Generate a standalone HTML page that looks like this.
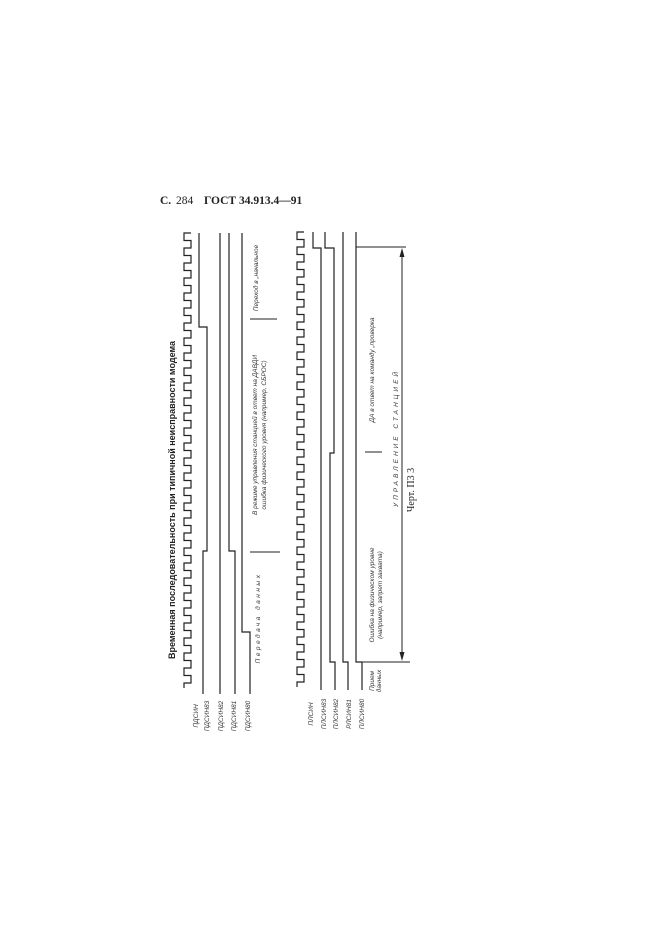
<!DOCTYPE html>
<html><head><meta charset="utf-8"><style>
html,body{margin:0;padding:0;background:#fff;}
svg{display:block;}
text{font-family:"Liberation Sans",sans-serif;fill:#333;}
text.hd{font-family:"Liberation Serif",serif;font-size:11.5px;font-weight:bold;fill:#222;}
</style></head><body>
<svg width="661" height="935" viewBox="0 0 661 935" xmlns="http://www.w3.org/2000/svg">
<defs>
<path id="clk" d="M0 0
h-7 v7.5 h7 v7.5 h-7 v7.5 h7 v7.5 h-7 v7.5 h7 v7.5 h-7 v7.5 h7 v7.5 h-7 v7.5 h7 v7.5
h-7 v7.5 h7 v7.5 h-7 v7.5 h7 v7.5 h-7 v7.5 h7 v7.5 h-7 v7.5 h7 v7.5 h-7 v7.5 h7 v7.5
h-7 v7.5 h7 v7.5 h-7 v7.5 h7 v7.5 h-7 v7.5 h7 v7.5 h-7 v7.5 h7 v7.5 h-7 v7.5 h7 v7.5
h-7 v7.5 h7 v7.5 h-7 v7.5 h7 v7.5 h-7 v7.5 h7 v7.5 h-7 v7.5 h7 v7.5 h-7 v7.5 h7 v7.5
h-7 v7.5 h7 v7.5 h-7 v7.5 h7 v7.5 h-7 v7.5 h7 v7.5 h-7 v7.5 h7 v7.5 h-7 v7.5 h7 v7.5
h-7 v7.5 h7 v7.5 h-7 v7.5 h7 v7.5 h-7 v7.5 h7 v7.5 h-7 v7.5 h7 v7.5 h-7 v7.5 h7 v7.5
h-7 v5" fill="none" stroke="#222" stroke-width="1.2"/>
</defs>
<text class="hd" x="160" y="204">С.</text>
<text class="hd" x="176" y="204" style="font-weight:normal">284</text>
<text class="hd" x="204" y="204">ГОСТ 34.913.4—91</text>

<text transform="translate(175,500) rotate(-90)" text-anchor="middle" style="font-size:9px;font-weight:bold;fill:#222">Временная последовательность при типичной неисправности модема</text>

<use href="#clk" x="191" y="233"/>
<use href="#clk" x="304" y="232"/>

<g fill="none" stroke="#222" stroke-width="1.2">
<path d="M199 233 V327 H207 V551 H203 V694"/>
<path d="M220 233 V694"/>
<path d="M229 233 V551 H235 V694"/>
<path d="M242 233 V632 H250 V694"/>

<path d="M313 232 V248 H321 V690"/>
<path d="M325 232 V248 H334 V453 H330 V662 H335 V690"/>
<path d="M343 232 V662 H348 V690"/>
<path d="M356 232 V662 H362 V690"/>

<path d="M356 247 H406" stroke-width="1"/>
<path d="M362 662 H410" stroke-width="1"/>
<path d="M402 252 V657" stroke-width="1"/>
<path d="M250 319 H277 M250 552 H280 M365 452 H382" stroke-width="1"/>
</g>
<polygon points="402,248 399.5,257 404.5,257" fill="#222"/>
<polygon points="402,661 399.5,652 404.5,652" fill="#222"/>

<g style="font-size:6.5px;font-style:italic">
<text transform="translate(198,716) rotate(-90)" text-anchor="middle">ПДСИН</text>
<text transform="translate(209,716) rotate(-90)" text-anchor="middle">ПДСИН83</text>
<text transform="translate(223,716) rotate(-90)" text-anchor="middle">ПДСИН82</text>
<text transform="translate(236,716) rotate(-90)" text-anchor="middle">ПДСИН81</text>
<text transform="translate(250,716) rotate(-90)" text-anchor="middle">ПДСИН80</text>
<text transform="translate(313,714) rotate(-90)" text-anchor="middle">ПЛСИН</text>
<text transform="translate(326,714) rotate(-90)" text-anchor="middle">ПЛСИН83</text>
<text transform="translate(338,714) rotate(-90)" text-anchor="middle">ПЛСИН82</text>
<text transform="translate(351,714) rotate(-90)" text-anchor="middle">РЛСИН81</text>
<text transform="translate(364,714) rotate(-90)" text-anchor="middle">ПЛСИН80</text>

<text transform="translate(258,278) rotate(-90)" text-anchor="middle">Переход в „начальное</text>
<text transform="translate(257,435) rotate(-90)" text-anchor="middle">В режиме управления станцией в ответ на ДАВДИ</text>
<text transform="translate(266,435) rotate(-90)" text-anchor="middle">ошибка физического уровня (например, СБРОС)</text>
<text transform="translate(260,618) rotate(-90)" text-anchor="middle" letter-spacing="2.5">Передача  данных</text>

<text transform="translate(374,370) rotate(-90)" text-anchor="middle">ДА в ответ на команду „проверка</text>
<text transform="translate(374,595) rotate(-90)" text-anchor="middle">Ошибка на физическом уровне</text>
<text transform="translate(382,595) rotate(-90)" text-anchor="middle">(например, запрет захвата)</text>
<text transform="translate(374,681) rotate(-90)" text-anchor="middle">Прием</text>
<text transform="translate(381,681) rotate(-90)" text-anchor="middle">данных</text>
<text transform="translate(398,438) rotate(-90)" text-anchor="middle" letter-spacing="3">УПРАВЛЕНИЕ  СТАНЦИЕЙ</text>
</g>
<text transform="translate(414,490) rotate(-90)" text-anchor="middle" style="font-family:'Liberation Serif',serif;font-size:10px;fill:#222">Черт. П3 3</text>
</svg>
</body></html>
